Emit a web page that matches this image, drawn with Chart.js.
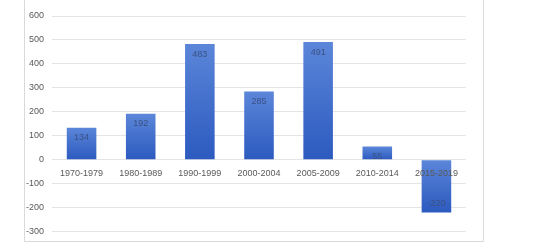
<!DOCTYPE html>
<html>
<head>
<meta charset="utf-8">
<script src="https://cdn.jsdelivr.net/npm/chart.js@4/dist/chart.umd.min.js"></script>
<style>
html,body{margin:0;padding:0;background:#fff;}
#wrap{position:relative;width:533px;height:245px;}
</style>
</head>
<body>
<div id="wrap"><canvas id="c" width="533" height="245"></canvas></div>
<script>
const categories = ["1970-1979","1980-1989","1990-1999","2000-2004","2005-2009","2010-2014","2015-2019"];
const values = [134, 192, 483, 285, 491, 55, -220];
const yTicks = [600, 500, 400, 300, 200, 100, 0, -100, -200, -300];

const FONT = {family: "'Liberation Sans', Arial, sans-serif", size: 9};

const framePlugin = {
  id: 'frame',
  beforeDraw(chart) {
    const ctx = chart.ctx;
    ctx.save();
    ctx.fillStyle = '#ffffff';
    ctx.fillRect(0, 0, chart.width, chart.height);
    ctx.strokeStyle = '#d9d9d9';
    ctx.lineWidth = 1;
    ctx.beginPath();
    ctx.moveTo(24.5, -2);
    ctx.lineTo(24.5, 241.5);
    ctx.lineTo(483.5, 241.5);
    ctx.lineTo(483.5, -2);
    ctx.stroke();
    ctx.restore();
  }
};

const labelPlugin = {
  id: 'vlabels',
  afterDatasetsDraw(chart) {
    const ctx = chart.ctx;
    const meta = chart.getDatasetMeta(0);
    ctx.save();
    ctx.font = FONT.size + 'px ' + FONT.family;
    ctx.fillStyle = '#3b5184';
    ctx.textAlign = 'center';
    ctx.textBaseline = 'middle';
    meta.data.forEach((bar, i) => {
      const v = values[i];
      const y = v >= 0 ? bar.y + 10 : bar.y - 9;
      ctx.fillText(String(v), bar.x, y);
    });
    ctx.restore();
  }
};

function barColor(context) {
  const chart = context.chart;
  const ys = chart.scales.y;
  if (!ys || context.dataIndex === undefined) return '#4472c4';
  const v = values[context.dataIndex];
  const top = ys.getPixelForValue(Math.max(v, 0));
  const bot = ys.getPixelForValue(Math.min(v, 0));
  if (!isFinite(top) || !isFinite(bot) || top === bot) return '#4472c4';
  const g = chart.ctx.createLinearGradient(0, top, 0, bot);
  g.addColorStop(0, '#5b86d9');
  g.addColorStop(1, '#2c5abf');
  return g;
}

new Chart(document.getElementById('c'), {
  type: 'bar',
  data: {
    labels: categories,
    datasets: [{
      data: values,
      backgroundColor: barColor,
      borderWidth: 0,
      barPercentage: 0.5,
      categoryPercentage: 1.0
    }]
  },
  plugins: [framePlugin, labelPlugin],
  options: {
    responsive: false,
    animation: false,
    devicePixelRatio: 1,
    layout: {padding: {left: 24, right: 67, top: 16, bottom: 6}},
    plugins: {legend: {display: false}, tooltip: {enabled: false}},
    scales: {
      x: {
        position: {y: 0},
        grid: {display: false, drawTicks: false},
        border: {display: false},
        ticks: {color: '#595959', font: FONT, padding: 8, maxRotation: 0, autoSkip: false, z: 1}
      },
      y: {
        min: -300, max: 600,
        afterFit(scale) { scale.width = 28; },
        afterBuildTicks(scale) { scale.ticks = yTicks.map(v => ({value: v})); },
        grid: {color: '#e4e4e4', drawTicks: false},
        border: {display: false},
        ticks: {color: '#595959', font: FONT, padding: 8, stepSize: 100}
      }
    }
  }
});
</script>
</body>
</html>
